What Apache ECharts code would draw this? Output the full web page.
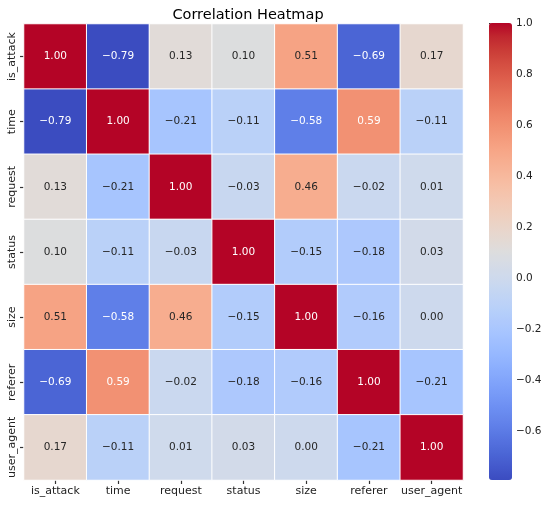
<!DOCTYPE html>
<html>
<head>
<meta charset="utf-8">
<style>
  html, body { margin: 0; padding: 0; background: #fff; }
  #main { width: 550px; height: 505px; }
</style>
<script src="https://cdn.jsdelivr.net/npm/echarts@6/dist/echarts.min.js"></script>
</head>
<body>
<div id="main"></div>
<script>
// 变量名
var labels = ['is_attack', 'time', 'request', 'status', 'size', 'referer', 'user_agent'];

// 相关系数矩阵（按行）
var rowIsAttack  = [1.00, -0.79,  0.13,  0.10,  0.51, -0.69,  0.17];
var rowTime      = [-0.79, 1.00, -0.21, -0.11, -0.58,  0.59, -0.11];
var rowRequest   = [0.13, -0.21,  1.00, -0.03,  0.46, -0.02,  0.01];
var rowStatus    = [0.10, -0.11, -0.03,  1.00, -0.15, -0.18,  0.03];
var rowSize      = [0.51, -0.58,  0.46, -0.15,  1.00, -0.16,  0.00];
var rowReferer   = [-0.69, 0.59, -0.02, -0.18, -0.16,  1.00, -0.21];
var rowUserAgent = [0.17, -0.11,  0.01,  0.03,  0.00, -0.21,  1.00];

var colorbarTicks = [-0.6, -0.4, -0.2, 0.0, 0.2, 0.4, 0.6, 0.8, 1.0];

// coolwarm
var coolwarm = [
  '#3b4cc0', '#445acc', '#4d68d7', '#5775e1', '#6282ea', '#6c8ef1', '#779af7', '#82a5fb',
  '#8db0fe', '#98b9ff', '#a3c2ff', '#aec9fd', '#b8d0f9', '#c2d5f4', '#ccd9ee', '#d5dbe6',
  '#dddddd', '#e5d8d1', '#ecd3c5', '#f1ccb9', '#f5c4ad', '#f7bba0', '#f7b194', '#f7a687',
  '#f49a7b', '#f18d6f', '#ec7f63', '#e57058', '#de604d', '#d55042', '#cb3e38', '#c0282f',
  '#b40426'
];

var rows = [rowIsAttack, rowTime, rowRequest, rowStatus, rowSize, rowReferer, rowUserAgent];
var data = [];
var vmin = 1, vmax = -1;
rows.forEach(function (row, y) {
  row.forEach(function (v, x) {
    data.push([x, y, v]);
    vmin = Math.min(vmin, v);
    vmax = Math.max(vmax, v);
  });
});

function fmt(v, d) {
  var s = Math.abs(v).toFixed(d);
  return (v < 0 && Number(s) !== 0 ? '\u2212' : '') + s;
}

var font = 'DejaVu Sans';
var myChart = echarts.init(document.getElementById('main'));

function catTick() {
  return { show: true, interval: 0, alignWithLabel: true, length: 4, lineStyle: { color: '#333', width: 1.2 } };
}

var option = {
  backgroundColor: '#fff',
  textStyle: { fontFamily: font },
  title: {
    text: 'Correlation Heatmap',
    left: 243,
    textAlign: 'center',
    top: 3,
    textStyle: { fontFamily: font, fontSize: 14.5, fontWeight: 'normal', color: '#000' }
  },
  grid: [
    { left: 24, right: 87, top: 24, bottom: 25 },
    { left: 489, width: 23, top: 23, bottom: 25 }
  ],
  xAxis: [{
    type: 'category',
    data: labels,
    gridIndex: 0,
    position: 'bottom',
    axisLine: { show: false },
    axisTick: catTick(),
    axisLabel: { interval: 0, fontFamily: font, fontSize: 11, color: '#222', margin: 6 },
    splitLine: { show: false }
  }, {
    type: 'value',
    gridIndex: 1,
    show: false,
    min: 0,
    max: 1
  }],
  yAxis: [{
    type: 'category',
    data: labels,
    gridIndex: 0,
    inverse: true,
    axisLine: { show: false },
    axisTick: catTick(),
    axisLabel: { interval: 0, fontFamily: font, fontSize: 11, color: '#222', rotate: 90, margin: 6 },
    splitLine: { show: false }
  }, {
    type: 'value',
    gridIndex: 1,
    position: 'right',
    min: vmin,
    max: vmax,
    axisLine: { show: false },
    splitLine: { show: false },
    axisTick: { show: true, length: 3.5, customValues: colorbarTicks, lineStyle: { color: '#222' } },
    axisLabel: {
      fontFamily: font, fontSize: 10.5, color: '#222', margin: 4,
      customValues: colorbarTicks,
      formatter: function (v) { return fmt(v, 1); }
    }
  }],
  visualMap: {
    type: 'continuous',
    seriesIndex: 0,
    min: vmin,
    max: vmax,
    calculable: false,
    showLabel: false,
    text: null,
    left: 489,
    top: 23,
    itemWidth: 23,
    itemHeight: 457,
    padding: 0,
    inRange: { color: coolwarm }
  },
  series: [{
    type: 'heatmap',
    xAxisIndex: 0,
    yAxisIndex: 0,
    data: data.map(function (d) {
      // 深色格子用白色文字
      var dark = Math.abs(d[2]) >= 0.55;
      return { value: d, label: { color: dark ? '#ffffff' : '#262626' } };
    }),
    itemStyle: { borderColor: '#fff', borderWidth: 1 },
    label: {
      show: true,
      fontFamily: font,
      fontSize: 10.5,
      formatter: function (p) { return fmt(p.value[2], 2); }
    },
    emphasis: { disabled: true }
  }]
};

myChart.setOption(option);
</script>
</body>
</html>
